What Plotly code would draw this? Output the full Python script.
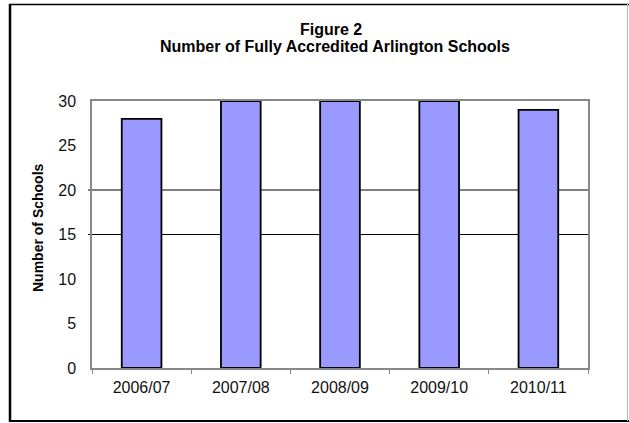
import plotly.graph_objects as go

# School years and number of fully accredited schools
years = ["2006/07", "2007/08", "2008/09", "2009/10", "2010/11"]
schools = [28, 30, 30, 30, 29]
y_ticks = [0, 5, 10, 15, 20, 25, 30]
ref_lines = [15, 20]

W, H = 629, 423
L, R, T, B = 92, 588, 101, 368  # plot area in pixels
PW, PH = R - L, B - T


def px(x):
    return (x - L) / PW


def py(y):
    return (B - y) / PH


FONT = "Liberation Sans, Arial, sans-serif"

fig = go.Figure(
    go.Bar(
        x=years,
        y=schools,
        width=0.4,
        marker=dict(color="#9999FF", line=dict(color="#000000", width=1.8)),
    )
)

shapes = []
for v in ref_lines:
    shapes.append(dict(type="line", xref="paper", yref="y", x0=px(L - 4), x1=1,
                       y0=v, y1=v, line=dict(color="#000000", width=1), layer="below"))

# outer frame of the chart
shapes += [
    dict(type="line", xref="paper", yref="paper", x0=px(10), x1=px(10),
         y0=py(4), y1=py(422), line=dict(color="#000000", width=2.5)),
    dict(type="line", xref="paper", yref="paper", x0=px(9), x1=px(629),
         y0=py(4.5), y1=py(4.5), line=dict(color="#000000", width=1.5)),
    dict(type="line", xref="paper", yref="paper", x0=px(9), x1=px(629),
         y0=py(421), y1=py(421), line=dict(color="#000000", width=2)),
    dict(type="line", xref="paper", yref="paper", x0=px(627.5), x1=px(627.5),
         y0=py(4), y1=py(421), line=dict(color="#BBBBBB", width=1)),
]

annotations = [
    dict(text="<b>Figure 2</b>", xref="paper", yref="paper", x=px(331), y=py(29),
         xanchor="center", yanchor="middle",
         showarrow=False, font=dict(family=FONT, size=16, color="#000000")),
    dict(text="<b>Number of Fully Accredited Arlington Schools</b>", xref="paper", yref="paper",
         x=px(335), y=py(47), xanchor="center", yanchor="middle",
         showarrow=False, font=dict(family=FONT, size=16, color="#000000")),
    dict(text="<b>Number of Schools</b>", xref="paper", yref="paper", x=px(38), y=py(228),
         xanchor="center", yanchor="middle",
         showarrow=False, textangle=-90, font=dict(family=FONT, size=14, color="#000000")),
]

fig.update_layout(
    width=W,
    height=H,
    margin=dict(l=L, r=W - R, t=T, b=H - B, pad=0),
    paper_bgcolor="#FFFFFF",
    plot_bgcolor="#FFFFFF",
    showlegend=False,
    shapes=shapes,
    annotations=annotations,
    font=dict(family=FONT, size=16, color="#000000"),
)

fig.update_xaxes(
    showgrid=False,
    showline=True,
    linecolor="#888888",
    linewidth=1.5,
    mirror=True,
    ticks="outside",
    tickson="boundaries",
    ticklen=4,
    tickcolor="#888888",
    ticklabelstandoff=4,
    tickfont=dict(family=FONT, size=16, color="#111111"),
)
fig.update_yaxes(
    range=[0, 30],
    tickvals=y_ticks,
    showgrid=False,
    zeroline=False,
    showline=True,
    linecolor="#888888",
    linewidth=1.5,
    mirror=True,
    ticks="",
    ticklabelstandoff=11,
    tickfont=dict(family=FONT, size=16, color="#111111"),
)

fig.write_html("out.html")
